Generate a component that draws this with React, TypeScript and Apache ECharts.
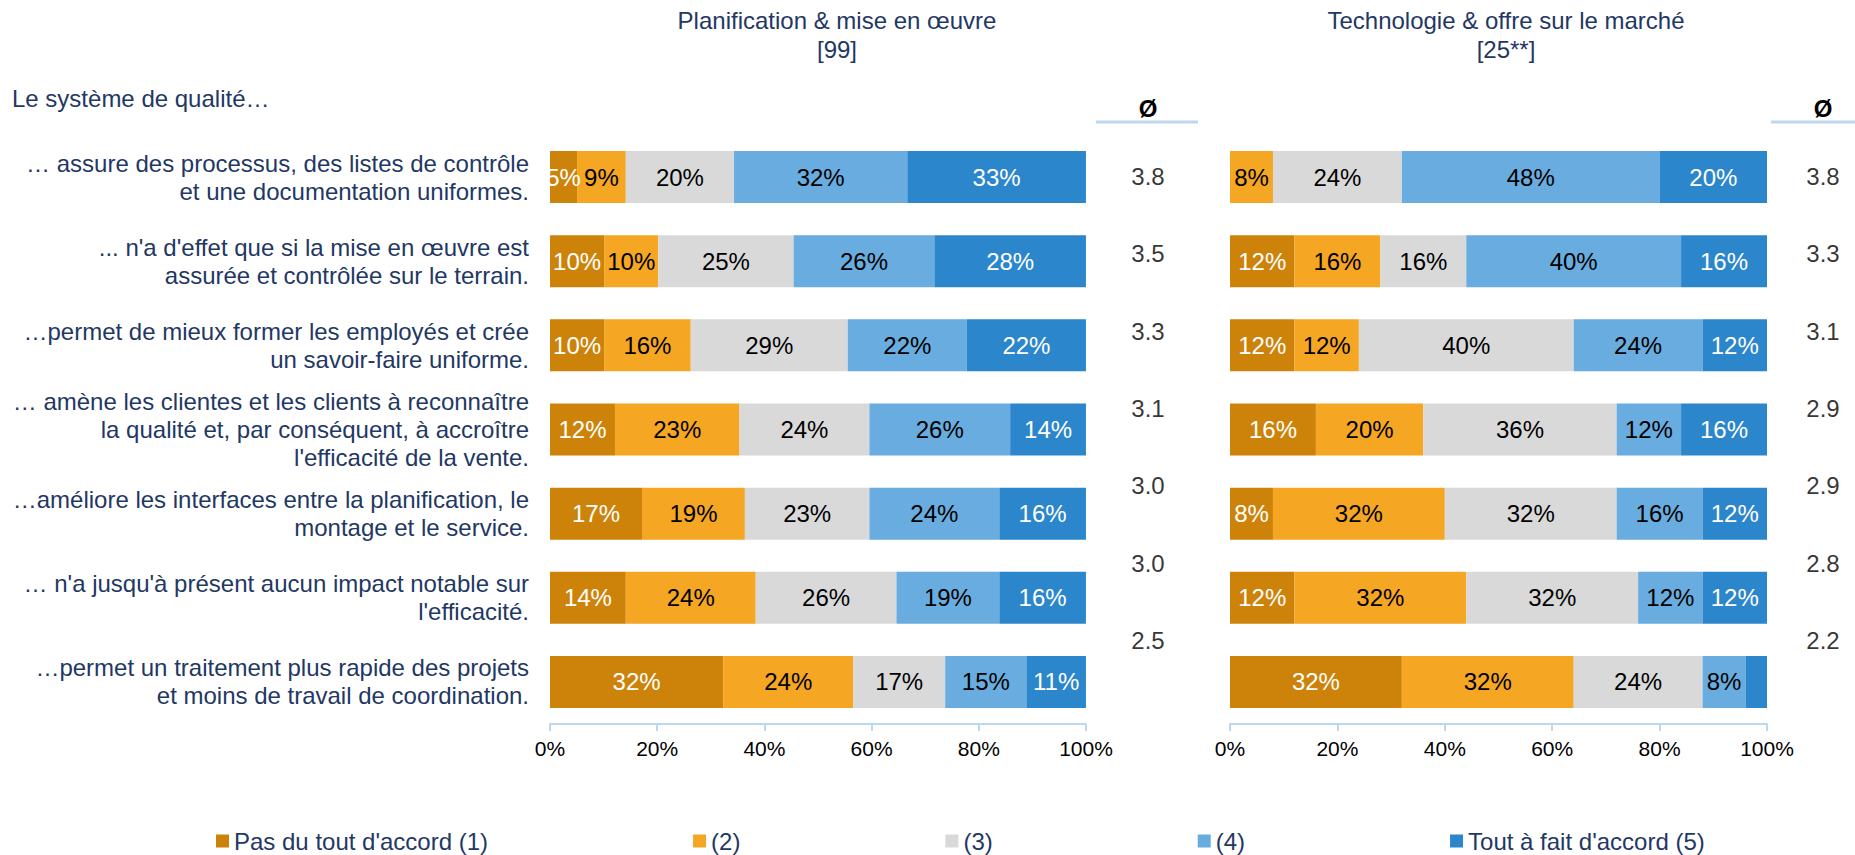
import React, { useEffect, useRef } from "react";
import * as echarts from "echarts";

const FONT = "'Liberation Sans', Arial, sans-serif";
const NAVY = "#1F3864";
const AXIS_BLUE = "#BDD7EE";

const categories = [
  "… assure des processus, des listes de contrôle\net une documentation uniformes.",
  "... n'a d'effet que si la mise en œuvre est\nassurée et contrôlée sur le terrain.",
  "…permet de mieux former les employés et crée\nun savoir-faire uniforme.",
  "… amène les clientes et les clients à reconnaître\nla qualité et, par conséquent, à accroître\nl'efficacité de la vente.",
  "…améliore les interfaces entre la planification, le\nmontage et le service.",
  "… n'a jusqu'à présent aucun impact notable sur\nl'efficacité.",
  "…permet un traitement plus rapide des projets\net moins de travail de coordination.",
];

const levels = [
  "Pas du tout d'accord (1)",
  "(2)",
  "(3)",
  "(4)",
  "Tout à fait d'accord (5)",
];
const levelColors = ["#CD830A", "#F5A623", "#D9D9D9", "#69ACDF", "#2C86CB"];
const labelColors = ["#FFFFFF", "#000000", "#000000", "#000000", "#FFFFFF"];

// Planification & mise en œuvre [99] — share per answer level (%)
const planLevel1 = [5.05, 10.1, 10.1, 12.12, 17.17, 14.14, 32.32];
const planLevel2 = [9.09, 10.1, 16.16, 23.23, 19.19, 24.24, 24.24];
const planLevel3 = [20.2, 25.25, 29.29, 24.24, 23.23, 26.26, 17.17];
const planLevel4 = [32.32, 26.26, 22.22, 26.26, 24.24, 19.19, 15.15];
const planLevel5 = [33.33, 28.28, 22.22, 14.14, 16.16, 16.16, 11.11];
const planMeans = [3.8, 3.5, 3.3, 3.1, 3.0, 3.0, 2.5];

// Technologie & offre sur le marché [25**]
const techLevel1 = [0, 12, 12, 16, 8, 12, 32];
const techLevel2 = [8, 16, 12, 20, 32, 32, 32];
const techLevel3 = [24, 16, 40, 36, 32, 32, 24];
const techLevel4 = [48, 40, 24, 12, 16, 12, 8];
const techLevel5 = [20, 16, 12, 16, 12, 12, 4];
const techMeans = [3.8, 3.3, 3.1, 2.9, 2.9, 2.8, 2.2];

const xTicks = { min: 0, max: 100, interval: 20 };

export default function App() {
  const ref = useRef<HTMLDivElement>(null);

  useEffect(() => {
    if (!ref.current) return;
    const chart = echarts.init(ref.current, null, { renderer: "svg" });

    const planLevels = [planLevel1, planLevel2, planLevel3, planLevel4, planLevel5];
    const techLevels = [techLevel1, techLevel2, techLevel3, techLevel4, techLevel5];

    const barLabel = (i: number) => ({
      show: true,
      position: "inside",
      color: labelColors[i],
      fontSize: 24,
      fontFamily: FONT,
      formatter: (p: any) => (p.value >= 5 ? Math.round(p.value) + "%" : ""),
    });

    const series: any[] = [];
    levels.forEach((name, i) => {
      series.push({
        name,
        type: "bar",
        stack: "plan",
        xAxisIndex: 0,
        yAxisIndex: 0,
        barWidth: 52,
        itemStyle: { color: levelColors[i] },
        label: barLabel(i),
        data: planLevels[i],
      });
    });
    levels.forEach((name, i) => {
      series.push({
        name,
        type: "bar",
        stack: "tech",
        xAxisIndex: 1,
        yAxisIndex: 1,
        barWidth: 52,
        itemStyle: { color: levelColors[i] },
        label: barLabel(i),
        data: techLevels[i],
      });
    });
    const meanSeries = (means: number[], idx: number) => ({
      type: "scatter",
      xAxisIndex: idx,
      yAxisIndex: idx,
      symbolSize: 1,
      itemStyle: { color: "transparent" },
      label: {
        show: true,
        position: "inside",
        color: "#000",
        fontSize: 24,
        fontFamily: FONT,
        formatter: (p: any) => Number(p.value[2]).toFixed(1),
      },
      data: means.map((m, i) => [0.5, i, m]),
    });
    series.push(meanSeries(planMeans, 2));
    series.push(meanSeries(techMeans, 3));

    const valueAxis = (gridIndex: number) => ({
      gridIndex,
      type: "value",
      min: xTicks.min,
      max: xTicks.max,
      interval: xTicks.interval,
      axisLine: { show: true, lineStyle: { color: AXIS_BLUE, width: 2 } },
      axisTick: { show: true, length: 7, lineStyle: { color: AXIS_BLUE, width: 2 } },
      axisLabel: { formatter: "{value}%", fontSize: 21, color: "#000", margin: 14, fontFamily: FONT },
      splitLine: { show: false },
    });
    const hiddenValue = (gridIndex: number) => ({
      gridIndex,
      type: "value",
      min: 0,
      max: 1,
      show: false,
    });

    chart.setOption({
      animation: false,
      textStyle: { fontFamily: FONT },
      grid: [
        { left: 550, top: 135, width: 536, height: 589 },
        { left: 1230, top: 135, width: 537, height: 589 },
        { left: 1118, top: 138, width: 60, height: 541 },
        { left: 1793, top: 138, width: 60, height: 541 },
      ],
      xAxis: [valueAxis(0), valueAxis(1), hiddenValue(2), hiddenValue(3)],
      yAxis: [
        {
          gridIndex: 0,
          type: "category",
          data: categories,
          inverse: true,
          axisLine: { show: false },
          axisTick: { show: false },
          axisLabel: {
            fontSize: 24,
            color: NAVY,
            lineHeight: 28,
            margin: 21,
            align: "right",
            fontFamily: FONT,
          },
        },
        {
          gridIndex: 1,
          type: "category",
          data: categories,
          inverse: true,
          axisLine: { show: false },
          axisTick: { show: false },
          axisLabel: { show: false },
        },
        { gridIndex: 2, type: "category", data: categories, inverse: true, show: false },
        { gridIndex: 3, type: "category", data: categories, inverse: true, show: false },
      ],
      legend: {
        data: levels,
        left: 211,
        top: 824,
        icon: "rect",
        itemWidth: 13,
        itemHeight: 13,
        itemGap: 205,
        textStyle: { fontSize: 24, color: NAVY, fontFamily: FONT },
      },
      graphic: [
        {
          type: "text",
          x: 837,
          y: 6,
          style: {
            text: "Planification & mise en œuvre\n[99]",
            fontSize: 24,
            fontFamily: FONT,
            fill: NAVY,
            align: "center",
            textAlign: "center",
            lineHeight: 29,
          },
        },
        {
          type: "text",
          x: 1506,
          y: 6,
          style: {
            text: "Technologie & offre sur le marché\n[25**]",
            fontSize: 24,
            fontFamily: FONT,
            fill: NAVY,
            align: "center",
            textAlign: "center",
            lineHeight: 29,
          },
        },
        {
          type: "text",
          x: 12,
          y: 86,
          style: { text: "Le système de qualité…", fontSize: 24, fontFamily: FONT, fill: NAVY },
        },
        {
          type: "text",
          x: 1148,
          y: 96,
          style: {
            text: "Ø",
            fontSize: 24,
            fontWeight: "bold",
            fontFamily: FONT,
            fill: "#000",
            align: "center",
            textAlign: "center",
          },
        },
        {
          type: "text",
          x: 1823,
          y: 96,
          style: {
            text: "Ø",
            fontSize: 24,
            fontWeight: "bold",
            fontFamily: FONT,
            fill: "#000",
            align: "center",
            textAlign: "center",
          },
        },
        {
          type: "line",
          shape: { x1: 1096, y1: 122, x2: 1198, y2: 122 },
          style: { stroke: AXIS_BLUE, lineWidth: 3 },
        },
        {
          type: "line",
          shape: { x1: 1771, y1: 122, x2: 1855, y2: 122 },
          style: { stroke: AXIS_BLUE, lineWidth: 3 },
        },
      ],
      series,
    });

    return () => chart.dispose();
  }, []);

  return (
    <div
      ref={ref}
      style={{ position: "fixed", left: 0, top: 0, width: 1855, height: 855, background: "#fff" }}
    />
  );
}
